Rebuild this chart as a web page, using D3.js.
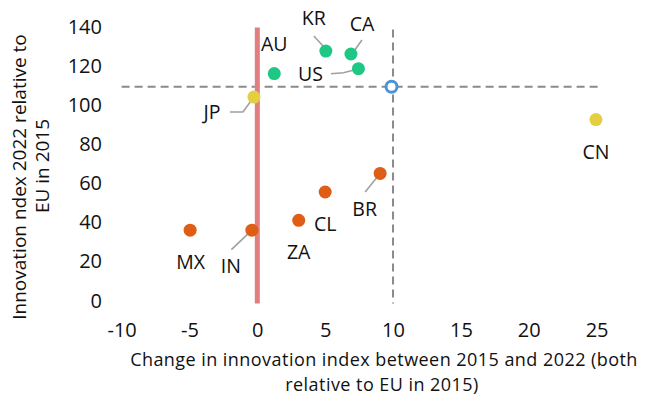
<!DOCTYPE html>
<html>
<head>
<meta charset="utf-8">
<script src="https://cdn.jsdelivr.net/npm/d3@7/dist/d3.min.js"></script>
<style>
  html, body { margin: 0; padding: 0; background: #fff; }
  svg { display: block; }
  text { font-family: "Open Sans", "Noto Sans", sans-serif; fill: #111; }
</style>
</head>
<body>
<svg id="chart" width="654" height="396"></svg>
<script>
// Countries: change in innovation index 2015-2022 (x) vs index 2022 (y), both relative to EU 2015
const countries = ["AU", "KR", "CA", "US", "JP", "CN", "BR", "CL", "ZA", "IN", "MX"];
const changeValues = [1.25, 5.05, 6.9, 7.45, -0.25, 24.95, 9.05, 5.0, 3.05, -0.4, -4.95];
const indexValues = [116, 127.5, 126, 118.5, 104, 92.5, 65, 55.5, 41, 36, 36];
const groups = ["leader", "leader", "leader", "leader", "mid", "mid", "low", "low", "low", "low", "low"];

// EU reference point
const euChange = 10;
const euIndex = 109.3;

const xTicks = [-10, -5, 0, 5, 10, 15, 20, 25];
const yTicks = [0, 20, 40, 60, 80, 100, 120, 140];

const xTitle = ["Change in innovation index between 2015 and 2022 (both", "relative to EU in 2015)"];
const yTitle = ["Innovation ndex 2022 relative to", "EU in 2015"];

const groupColor = { leader: "#1ec784", mid: "#e3cf3f", low: "#df5d14" };

// label placement (pixel offsets from the point) and optional leader lines
const labelLayout = {
  AU: { dx: 0, dy: -23 },
  KR: { dx: -12, dy: -26, leader: [[-12, -15], [-1, -3]] },
  CA: { dx: 11, dy: -23, leader: [[11, -14], [1, 0]] },
  US: { dx: -48, dy: 12, leader: [[-27.5, 5], [-15, 4], [-1.5, 0.5]] },
  JP: { dx: -42, dy: 22, leader: [[-24, 15], [-11, 15], [0, 0]] },
  CN: { dx: 0, dy: 39 },
  BR: { dx: -15.5, dy: 43, leader: [[-15, 18.5], [0, 0]] },
  CL: { dx: 0, dy: 39 },
  ZA: { dx: 0, dy: 39 },
  IN: { dx: -21, dy: 42.5, leader: [[-20.5, 19.5], [0, 0]] },
  MX: { dx: 0.5, dy: 38.5 }
};

const svg = d3.select("#chart");

const x = d3.scaleLinear().domain([-10, 25]).range([121.6, 596.6]);
const y = d3.scaleLinear().domain([0, 140]).range([300.6, 26.6]);

// x axis tick labels
const xAxis = d3.axisBottom(x).tickValues(xTicks).tickSize(0).tickPadding(0).tickFormat(d => String(d));
svg.append("g")
  .attr("transform", "translate(0,323)")
  .call(xAxis)
  .call(g => g.select(".domain").remove())
  .call(g => g.selectAll("text")
    .attr("dy", "0.71em")
    .style("font-family", "'Open Sans', sans-serif")
    .style("font-size", "20px")
    .attr("fill", "#111"));

// y axis tick labels
const yAxis = d3.axisLeft(y).tickValues(yTicks).tickSize(0).tickPadding(0).tickFormat(d => String(d));
svg.append("g")
  .attr("transform", "translate(102,0)")
  .call(yAxis)
  .call(g => g.select(".domain").remove())
  .call(g => g.selectAll("text")
    .style("font-family", "'Open Sans', sans-serif")
    .style("font-size", "20px")
    .attr("fill", "#111"));

// EU reference lines
svg.append("line")
  .attr("x1", x(-10)).attr("x2", x(25.1))
  .attr("y1", y(euIndex)).attr("y2", y(euIndex))
  .attr("stroke", "#8a8a8a").attr("stroke-width", 2)
  .attr("stroke-dasharray", "8,5");
svg.append("line")
  .attr("x1", x(euChange)).attr("x2", x(euChange))
  .attr("y1", y(138.5)).attr("y2", y(-1.5))
  .attr("stroke", "#8a8a8a").attr("stroke-width", 2)
  .attr("stroke-dasharray", "8,5");

// zero-change line
svg.append("line")
  .attr("x1", x(0)).attr("x2", x(0))
  .attr("y1", y(139.5)).attr("y2", y(-1.5))
  .attr("stroke", "#e07e80").attr("stroke-width", 5);

const data = countries.map((c, i) => ({
  code: c, change: changeValues[i], index: indexValues[i], group: groups[i]
}));

// leader lines
const line = d3.line().curve(d3.curveLinear);
svg.append("g").selectAll("path")
  .data(data.filter(d => labelLayout[d.code].leader))
  .join("path")
  .attr("d", d => {
    const px = x(d.change), py = y(d.index);
    return line(labelLayout[d.code].leader.map(([dx, dy]) => [px + dx, py + dy]));
  })
  .attr("fill", "none")
  .attr("stroke", "#a0a0a0")
  .attr("stroke-width", 1.6);

// country points
svg.append("g").selectAll("circle")
  .data(data)
  .join("circle")
  .attr("cx", d => x(d.change))
  .attr("cy", d => y(d.index))
  .attr("r", 6.5)
  .attr("fill", d => groupColor[d.group]);

// EU marker
svg.append("circle")
  .attr("cx", x(euChange) - 1.5)
  .attr("cy", y(euIndex))
  .attr("r", 5.5)
  .attr("fill", "#fff")
  .attr("stroke", "#4c93d6")
  .attr("stroke-width", 3);

// country labels
svg.append("g").selectAll("text")
  .data(data)
  .join("text")
  .attr("x", d => x(d.change) + labelLayout[d.code].dx)
  .attr("y", d => y(d.index) + labelLayout[d.code].dy)
  .attr("text-anchor", "middle")
  .style("font-size", "19.5px")
  .text(d => d.code);

// axis titles (two-line, one text element each)
svg.append("text")
  .attr("text-anchor", "middle")
  .style("font-size", "18px")
  .style("letter-spacing", "0.45px")
  .selectAll("tspan")
  .data(xTitle)
  .join("tspan")
  .attr("x", (d, i) => i === 0 ? 384 : 382)
  .attr("y", (d, i) => 366 + i * 24.6)
  .text(d => d);

svg.append("text")
  .attr("transform", "rotate(-90)")
  .attr("text-anchor", "middle")
  .style("font-size", "19px")
  .selectAll("tspan")
  .data(yTitle)
  .join("tspan")
  .attr("x", (d, i) => i === 0 ? -177 : -166)
  .attr("y", (d, i) => i === 0 ? 26 : 49)
  .text(d => d);
</script>
</body>
</html>
